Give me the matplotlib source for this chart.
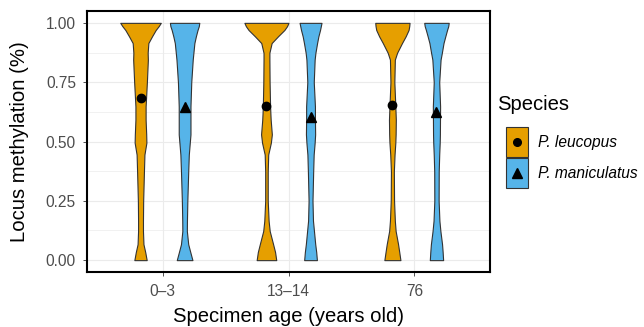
import numpy as np
import matplotlib
matplotlib.use("Agg")
import matplotlib.pyplot as plt
from matplotlib.patches import Rectangle

plt.rcParams['font.family'] = ['Liberation Sans', 'DejaVu Sans']

# data
ages = ["0–3", "13–14", "76"]
species = ["P. leucopus", "P. maniculatus"]

# y levels at which the violin widths were read
levels = [0.0, 0.034, 0.067, 0.123, 0.166, 0.25, 0.374, 0.445, 0.495, 0.53,
          0.592, 0.648, 0.75, 0.845, 0.874, 0.915, 0.943, 0.97, 0.986, 1.0]

# relative density (violin half width) per age group
leucopus_density = [
    [6.3, 4.8, 3.0, 2.5, 2.5, 2.7, 3.5, 4.0, 6.0, 5.8, 5.2, 5.2, 6.5, 7.5, 7.3, 8.0, 11.7, 15.5, 18.5, 20.7],
    [10.0, 8.8, 6.8, 3.3, 2.2, 1.3, 1.3, 1.8, 4.5, 5.5, 4.3, 3.7, 3.2, 3.0, 3.0, 5.3, 11.7, 18.3, 21.0, 22.5],
    [8.2, 7.0, 5.8, 3.3, 2.5, 1.7, 1.5, 2.2, 3.0, 3.3, 3.5, 3.0, 2.0, 2.5, 4.8, 9.8, 13.5, 16.5, 17.2, 17.5],
]
maniculatus_density = [
    [8.0, 5.8, 3.7, 2.3, 2.4, 2.8, 3.7, 4.3, 5.3, 6.0, 6.0, 6.0, 6.8, 8.3, 9.0, 10.0, 11.5, 13.2, 14.5, 15.0],
    [6.5, 5.8, 4.8, 3.5, 2.5, 2.0, 2.7, 3.2, 4.2, 4.7, 4.5, 4.5, 3.3, 4.2, 5.0, 6.7, 8.0, 9.7, 10.5, 11.2],
    [6.8, 6.3, 5.7, 4.0, 3.0, 2.2, 2.3, 2.8, 3.3, 3.5, 3.6, 3.7, 2.8, 4.2, 5.5, 7.2, 9.0, 10.8, 12.0, 12.5],
]

leucopus_mean = [0.682, 0.651, 0.654]
maniculatus_mean = [0.645, 0.605, 0.626]

colors = ["#E69F00", "#56B4E9"]
markers = ["o", "^"]
msizes = [6, 7]
dodge = 0.175
edge = "#333333"

W, H = 644, 327
fig = plt.figure(figsize=(W / 100, H / 100), dpi=100)
ax = fig.add_axes([87 / W, (H - 272) / H, (490 - 87) / W, (272 - 11) / H])

y = np.array(levels)
dmax = max(np.max(leucopus_density), np.max(maniculatus_density))
groups = [(leucopus_density, leucopus_mean), (maniculatus_density, maniculatus_mean)]
for s, (dens, means) in enumerate(groups):
    off = -dodge if s == 0 else dodge
    for i in range(len(ages)):
        xc = i + 1 + off
        half = np.array(dens[i]) / dmax * dodge
        ax.fill_betweenx(y, xc - half, xc + half, facecolor=colors[s],
                         edgecolor=edge, linewidth=0.8, zorder=2)
        ax.plot(xc, means[i], marker=markers[s], color="black",
                markersize=msizes[s], linestyle="none", zorder=3)

ax.set_xlim(0.4, 3.6)
ax.set_ylim(-0.05, 1.05)
ax.set_xticks([1, 2, 3])
ax.set_xticklabels(ages)
ax.set_yticks([0, 0.25, 0.5, 0.75, 1.0])
ax.set_yticklabels(["0.00", "0.25", "0.50", "0.75", "1.00"])
ax.set_yticks([0.125, 0.375, 0.625, 0.875], minor=True)
ax.grid(True, which="major", color="#EBEBEB", linewidth=0.8, zorder=0)
ax.grid(True, which="minor", axis="y", color="#EBEBEB", linewidth=0.5, zorder=0)
ax.set_axisbelow(True)
ax.tick_params(which="major", length=3, width=0.6, color=edge,
               labelcolor="#4D4D4D", labelsize=11.2)
ax.tick_params(axis="x", pad=6)
ax.tick_params(axis="y", pad=5)
ax.tick_params(which="minor", length=0)
for sp in ax.spines.values():
    sp.set_color("black")
    sp.set_linewidth(1.5)

ax.set_xlabel("Specimen age (years old)", fontsize=14.6, labelpad=5.5)
ax.set_ylabel("Locus methylation (%)", fontsize=14.6, labelpad=12)

# legend, drawn by hand to match the ggplot key layout
def fx(px):
    return px / W

def fy(py):
    return 1 - py / H

fig.text(fx(497), fy(110), "Species", fontsize=14.6, ha="left", va="baseline")
for s in range(2):
    top = 127 + s * 31
    fig.add_artist(Rectangle((fx(506), fy(top + 30)), 22 / W, 30 / H,
                             transform=fig.transFigure, facecolor=colors[s],
                             edgecolor=edge, linewidth=0.8))
    fig.add_artist(plt.Line2D([fx(517)], [fy(top + 15)], marker=markers[s],
                              color="black", markersize=msizes[s] - 0.5,
                              linestyle="none", transform=fig.transFigure))
    fig.text(fx(538), fy(top + 15), species[s], fontsize=11.2, style="italic",
             ha="left", va="center")

fig.savefig("out.png", dpi=100)
